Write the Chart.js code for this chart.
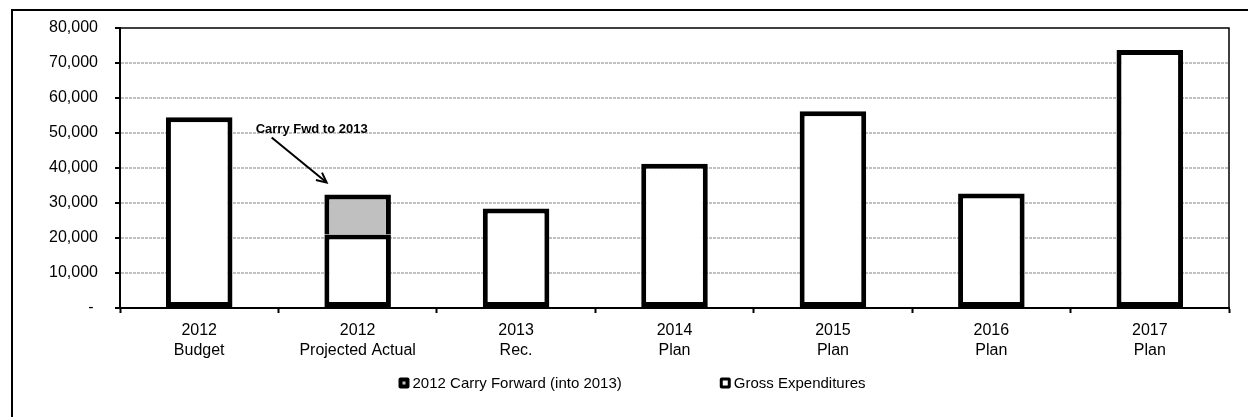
<!DOCTYPE html>
<html>
<head>
<meta charset="utf-8">
<script src="https://cdn.jsdelivr.net/npm/chart.js@4/dist/chart.umd.min.js"></script>
<style>
  html, body { margin: 0; padding: 0; background: #fff; }
  #wrap { width: 1248px; height: 417px; position: relative; }
</style>
</head>
<body>
<div id="wrap"><canvas id="capChart"></canvas></div>
<script>
// 数据
const categories = [
  ['2012', 'Budget'],
  ['2012', 'Projected Actual'],
  ['2013', 'Rec.'],
  ['2014', 'Plan'],
  ['2015', 'Plan'],
  ['2016', 'Plan'],
  ['2017', 'Plan']
];
const grossExpenditures = [54500, 21000, 28400, 41200, 56200, 32700, 73700];
const carryForward = [null, 11400, null, null, null, null, null];
const yTicks = [0, 10000, 20000, 30000, 40000, 50000, 60000, 70000, 80000];
const noteText = 'Carry Fwd to 2013';

const FONT = "'Liberation Sans', Arial, sans-serif";

// 外框 + 绘图区上/右边框
const framePlugin = {
  id: 'frame',
  beforeDraw(chart) {
    const ctx = chart.ctx;
    ctx.save();
    ctx.fillStyle = '#fff';
    ctx.fillRect(0, 0, chart.width, chart.height);
    ctx.strokeStyle = '#000';
    ctx.lineWidth = 2;
    ctx.strokeRect(12, 10, chart.width + 20, chart.height + 20);
    ctx.restore();
  },
  beforeDatasetsDraw(chart) {
    const { ctx, chartArea: a } = chart;
    ctx.save();
    ctx.strokeStyle = '#000';
    ctx.lineWidth = 1.5;
    ctx.beginPath();
    ctx.moveTo(a.left, a.top);
    ctx.lineTo(a.right, a.top);
    ctx.lineTo(a.right, a.bottom);
    ctx.stroke();
    ctx.restore();
  }
};

// 箭头标注
const notePlugin = {
  id: 'note',
  afterDatasetsDraw(chart) {
    const ctx = chart.ctx;
    const x = chart.scales.x.getPixelForValue(1);
    const y = chart.scales.y.getPixelForValue(grossExpenditures[1] + carryForward[1]);
    const tipX = x - 31, tipY = y - 12;
    const fromX = x - 86, fromY = y - 57;
    ctx.save();
    ctx.strokeStyle = '#000';
    ctx.lineWidth = 2;
    ctx.beginPath();
    ctx.moveTo(fromX, fromY);
    ctx.lineTo(tipX, tipY);
    ctx.stroke();
    const ang = Math.atan2(tipY - fromY, tipX - fromX);
    const len = 11;
    ctx.beginPath();
    ctx.moveTo(tipX - len * Math.cos(ang - 0.45), tipY - len * Math.sin(ang - 0.45));
    ctx.lineTo(tipX, tipY);
    ctx.lineTo(tipX - len * Math.cos(ang + 0.45), tipY - len * Math.sin(ang + 0.45));
    ctx.stroke();
    ctx.fillStyle = '#000';
    ctx.font = 'bold 13px ' + FONT;
    ctx.textAlign = 'center';
    ctx.textBaseline = 'middle';
    ctx.fillText(noteText, x - 46, y - 65);
    ctx.restore();
  }
};

// 图例（Excel 风格，居中于整张图）
const legendPlugin = {
  id: 'xlLegend',
  afterDraw(chart) {
    const ctx = chart.ctx;
    const items = chart.data.datasets.slice().reverse();
    const box = 11, gap = 3, spacing = 98;
    ctx.save();
    ctx.font = '15px ' + FONT;
    ctx.textBaseline = 'middle';
    const widths = items.map(d => ctx.measureText(d.label).width);
    let total = 0;
    widths.forEach((w, i) => { total += box + gap + w + (i ? spacing : 0); });
    let cx = (chart.width - total) / 2 + 8;
    const cy = chart.chartArea.bottom + 75;
    items.forEach((d, i) => {
      ctx.fillStyle = '#000';
      ctx.beginPath();
      ctx.roundRect(cx, cy - box / 2, box, box, 2);
      ctx.fill();
      ctx.fillStyle = d.backgroundColor;
      const inner = d.backgroundColor === '#ffffff' ? 5 : 3;
      ctx.fillRect(cx + (box - inner) / 2, cy - inner / 2, inner, inner);
      ctx.fillStyle = '#000';
      ctx.fillText(d.label, cx + box + gap, cy + 1);
      cx += box + gap + widths[i] + spacing;
    });
    ctx.restore();
  }
};

function renderChart() {
  const ctx = document.getElementById('capChart').getContext('2d');
  new Chart(ctx, {
    type: 'bar',
    data: {
      labels: categories,
      datasets: [{
        label: 'Gross Expenditures',
        data: grossExpenditures,
        backgroundColor: '#ffffff',
        borderColor: '#000000',
        borderWidth: 5,
        borderSkipped: false,
        categoryPercentage: 1,
        barPercentage: 0.42
      }, {
        label: '2012 Carry Forward (into 2013)',
        data: carryForward,
        backgroundColor: '#c0c0c0',
        borderColor: '#000000',
        borderWidth: 5,
        borderSkipped: 'bottom',
        categoryPercentage: 1,
        barPercentage: 0.42
      }]
    },
    options: {
      responsive: true,
      maintainAspectRatio: false,
      animation: false,
      layout: { padding: { left: 0, right: 19, top: 28, bottom: 0 } },
      plugins: { legend: { display: false }, tooltip: { enabled: false } },
      scales: {
        x: {
          stacked: true,
          offset: true,
          grid: { offset: true, drawOnChartArea: false, drawTicks: true, tickLength: 5, tickColor: '#000', tickWidth: 2 },
          border: { display: true, color: '#000', width: 2 },
          ticks: { color: '#000', font: { family: FONT, size: 16, lineHeight: 1.25 }, padding: 8, maxRotation: 0, autoSkip: false },
          afterFit: s => { s.height = 109; }
        },
        y: {
          stacked: true,
          min: yTicks[0],
          max: yTicks[yTicks.length - 1],
          afterBuildTicks: s => { s.ticks = yTicks.map(v => ({ value: v })); },
          ticks: {
            color: '#000',
            padding: 17,
            font: { family: FONT, size: 16 },
            callback: v => v === 0 ? '- ' : v.toLocaleString('en-US')
          },
          grid: {
            color: c => (c.tick && (c.tick.value === 0 || c.tick.value === 80000)) ? 'rgba(0,0,0,0)' : '#c0c0c0',
            lineWidth: 2,
            tickColor: '#000',
            tickWidth: 2,
            tickLength: 5
          },
          border: { color: '#000', width: 2, dash: [3, 1] },
          afterFit: s => { s.width = 120; }
        }
      }
    },
    plugins: [framePlugin, notePlugin, legendPlugin]
  });
}

document.addEventListener('DOMContentLoaded', renderChart);
</script>
</body>
</html>
